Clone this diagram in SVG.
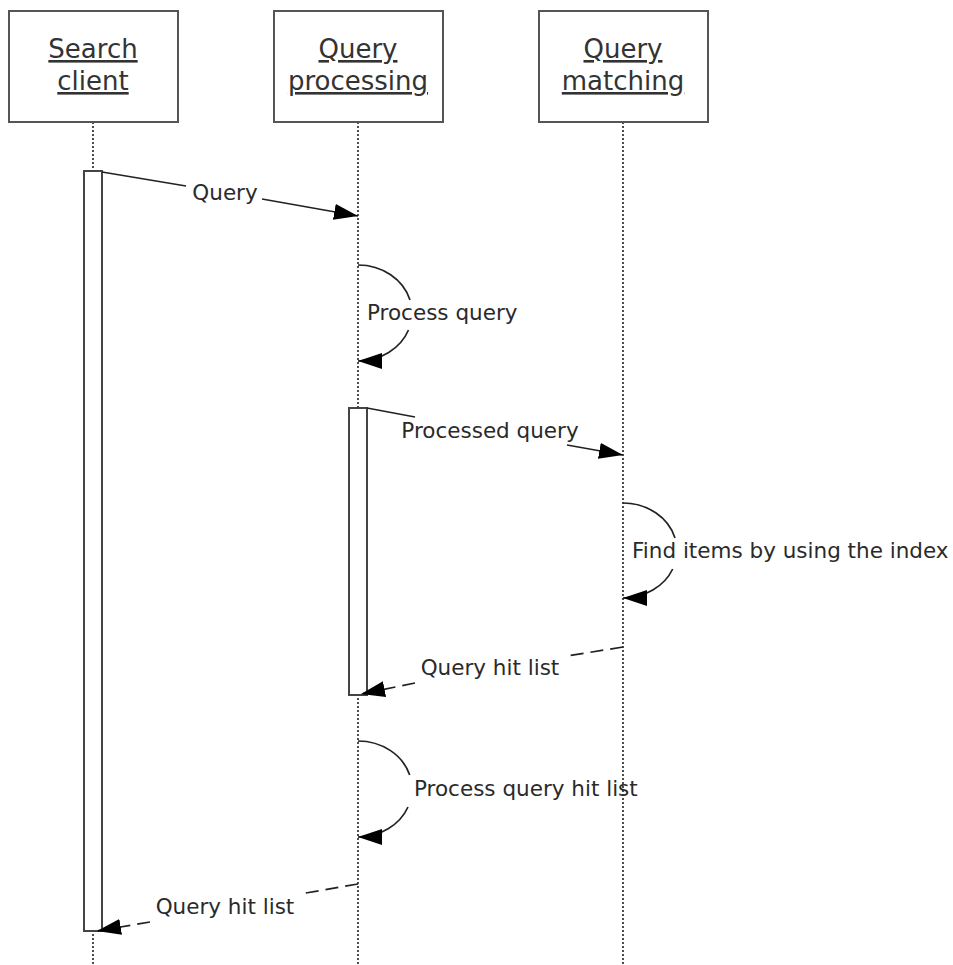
<svg xmlns="http://www.w3.org/2000/svg" width="953" height="965" viewBox="0 0 953 965">
<style>
.box{fill:#fff;stroke:#555;stroke-width:2}
.title{font-family:"DejaVu Sans",Verdana,sans-serif;font-size:26px;fill:#333;text-anchor:middle;text-decoration:underline}
.lbl{font-family:"DejaVu Sans",Verdana,sans-serif;font-size:21.5px;fill:#2a2a2a}
.life{stroke:#222;stroke-width:1.6;stroke-dasharray:2 2;fill:none}
.act{fill:#fff;stroke:#444;stroke-width:2}
.msg{stroke:#222;stroke-width:1.7;fill:none}
.ret{stroke:#222;stroke-width:1.7;fill:none;stroke-dasharray:13 7}
</style>
<defs>
<marker id="arr" markerUnits="userSpaceOnUse" markerWidth="26" markerHeight="18" refX="24" refY="8" orient="auto">
<path d="M0,0 L24,8 L0,16 z" fill="#000"/>
</marker>
</defs>
<g id="lifelines">
<line class="life" x1="93" y1="122" x2="93" y2="965"/>
<line class="life" x1="358" y1="122" x2="358" y2="965"/>
<line class="life" x1="623" y1="122" x2="623" y2="965"/>
</g>
<g id="search-client">
<rect class="box" x="9" y="11" width="169" height="111"/>
<text class="title" x="93" y="58">Search</text>
<text class="title" x="93" y="90">client</text>
<rect class="act" x="84" y="171" width="18" height="760"/>
</g>
<g id="query-processing">
<rect class="box" x="274" y="11" width="169" height="111"/>
<text class="title" x="358" y="58">Query</text>
<text class="title" x="358" y="90">processing</text>
<rect class="act" x="349" y="408" width="18" height="287"/>
</g>
<g id="query-matching">
<rect class="box" x="539" y="11" width="169" height="111"/>
<text class="title" x="623" y="58">Query</text>
<text class="title" x="623" y="90">matching</text>
</g>
<g id="connectors">
<line class="msg" x1="102" y1="172" x2="186" y2="186"/>
<path class="msg" d="M262,199 L358,216" marker-end="url(#arr)"/>
<text class="lbl" x="225" y="200" text-anchor="middle">Query</text>

<path class="msg" d="M358,265 A54,48 0 0 1 410,300"/>
<path class="msg" d="M408.5,330 A54,48 0 0 1 358,361" marker-end="url(#arr)"/>
<text class="lbl" x="367" y="320">Process query</text>

<line class="msg" x1="367" y1="408" x2="415" y2="417"/>
<path class="msg" d="M567,445 L623,455" marker-end="url(#arr)"/>
<text class="lbl" x="490" y="438" text-anchor="middle">Processed query</text>

<path class="msg" d="M623,503 A54,47.5 0 0 1 675,538"/>
<path class="msg" d="M672.7,569 A54,47.5 0 0 1 623,598" marker-end="url(#arr)"/>
<text class="lbl" x="632" y="558">Find items by using the index</text>

<line class="ret" x1="623" y1="647" x2="567" y2="656"/>
<path class="ret" d="M415,683 L361,694" marker-end="url(#arr)"/>
<text class="lbl" x="490" y="675" text-anchor="middle">Query hit list</text>

<path class="msg" d="M358,741 A54,48 0 0 1 409.7,775"/>
<path class="msg" d="M408,807 A54,48 0 0 1 358,837" marker-end="url(#arr)"/>
<text class="lbl" x="414" y="796">Process query hit list</text>

<line class="ret" x1="358" y1="884" x2="300" y2="894"/>
<path class="ret" d="M150,922 L97,931" marker-end="url(#arr)"/>
<text class="lbl" x="225" y="914" text-anchor="middle">Query hit list</text>
</g>
</svg>
